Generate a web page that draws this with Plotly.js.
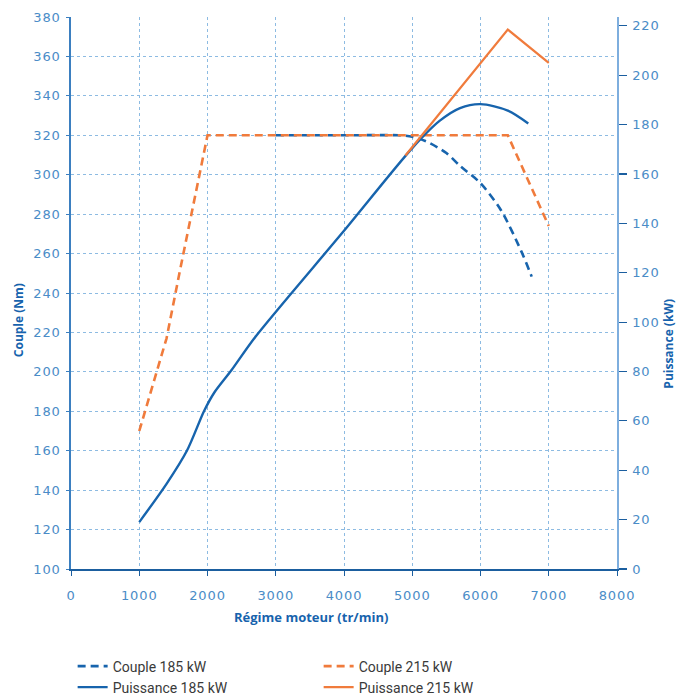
<!DOCTYPE html>
<html>
<head>
<meta charset="utf-8">
<script src="https://cdn.plot.ly/plotly-3.0.1.min.js"></script>
<style>
html,body{margin:0;padding:0;background:#fff;}
#chart{width:680px;height:696px;}
#chart .xtick text, #chart .ytick text, #chart .y2tick text{letter-spacing:0.9px;}
</style>
</head>
<body>
<div id="chart"></div>
<script>
// Couple 185 kW (Nm) — left axis (lower part lies under the 215 kW curve)
const rpmCouple185 = [3000, 4000, 4800, 5000, 5200, 5500, 5700, 6000, 6300, 6600, 6750];
const couple185    = [320, 320, 320, 319.3, 317, 311, 304.5, 295.7, 282, 261, 248.3];
// Couple 215 kW (Nm) — left axis
const rpmCouple215 = [1000, 1200, 1400, 1600, 1800, 2000, 6400, 7000];
const couple215    = [170, 194, 217, 252, 286, 320, 320, 274];
// Puissance 185 kW (kW) — right axis
const rpmPuiss185 = [1000, 1400, 1700, 1950, 2100, 2350, 2700, 4000, 5000, 5400, 5700, 6000, 6400, 6700];
const puiss185    = [19, 34.5, 48, 64, 71.5, 80.5, 94, 137, 170.5, 181.5, 186.7, 188.3, 185.7, 180.5];
// Puissance 215 kW (kW) — right axis
const rpmPuiss215 = [4900, 6400, 7000];
const puiss215    = [167.5, 218.5, 205];

const names = ['Couple 185 kW', 'Couple 215 kW', 'Puissance 185 kW', 'Puissance 215 kW'];
const xTicks = [0, 1000, 2000, 3000, 4000, 5000, 6000, 7000, 8000];

const BLUE = '#1764ad';
const ORANGE = '#f07b3c';
const TICKBLUE = '#4a8cc7';
const TITLEBLUE = '#1763ad';

const traces = [
  {x: rpmCouple185, y: couple185, name: names[0], mode: 'lines', yaxis: 'y', legend: 'legend',
   line: {color: BLUE, width: 2.6, dash: '8px,5px', shape: 'spline', smoothing: 0.8}},
  {x: rpmCouple215, y: couple215, name: names[1], mode: 'lines', yaxis: 'y', legend: 'legend',
   line: {color: ORANGE, width: 2.6, dash: '8px,5px'}},
  {x: rpmPuiss185, y: puiss185, name: names[2], mode: 'lines', yaxis: 'y2', legend: 'legend2',
   line: {color: BLUE, width: 2.4, shape: 'spline', smoothing: 0.8}},
  {x: rpmPuiss215, y: puiss215, name: names[3], mode: 'lines', yaxis: 'y2', legend: 'legend2',
   line: {color: ORANGE, width: 2.2}}
];

const tickFont = {family: 'DejaVu Sans, sans-serif', size: 13, color: TICKBLUE};
const legendFont = {family: 'Roboto, sans-serif', size: 14, color: '#3a3a3a'};

const layout = {
  width: 680, height: 696,
  margin: {l: 71, r: 63, t: 17, b: 127, pad: 0, autoexpand: false},
  paper_bgcolor: '#fff', plot_bgcolor: '#fff',
  showlegend: true,
  legend: {
    orientation: 'h', x: 0.003, xanchor: 'left', y: -0.1476, yanchor: 'top',
    entrywidth: 201, entrywidthmode: 'pixels',
    font: legendFont, traceorder: 'normal', bgcolor: 'rgba(0,0,0,0)'
  },
  legend2: {
    orientation: 'h', x: 0.003, xanchor: 'left', y: -0.1857, yanchor: 'top',
    entrywidth: 201, entrywidthmode: 'pixels',
    font: legendFont, traceorder: 'normal', bgcolor: 'rgba(0,0,0,0)'
  },
  xaxis: {
    range: [0, 8000], tickvals: xTicks, ticktext: xTicks.map(String),
    showgrid: true, gridcolor: '#8dbbe2', griddash: 'dot', gridwidth: 1,
    zeroline: false, showline: true, linecolor: '#1b5e9f', linewidth: 2,
    ticks: 'outside', ticklen: 5, tickcolor: '#1b5e9f', tickwidth: 1,
    tickfont: tickFont, ticklabelstandoff: 8,
    fixedrange: true
  },
  yaxis: {
    range: [100, 380], dtick: 20, tick0: 100,
    showgrid: true, gridcolor: '#8dbbe2', griddash: 'dot', gridwidth: 1,
    zeroline: false, showline: true, linecolor: '#3b7fc0', linewidth: 1.6,
    ticks: 'outside', ticklen: 3, tickcolor: '#3b7fc0',
    tickfont: tickFont, ticklabelstandoff: 3,
    fixedrange: true
  },
  yaxis2: {
    overlaying: 'y', side: 'right', anchor: 'x',
    range: [0, 223.6], dtick: 20, tick0: 0,
    showgrid: false, zeroline: false,
    showline: true, linecolor: '#7eaede', linewidth: 1.6,
    ticks: 'outside', ticklen: 8, tickcolor: '#1b5e9f', tickwidth: 1.2,
    tickfont: tickFont, ticklabelstandoff: 3,
    fixedrange: true
  },
  annotations: [
    {text: '<b>Couple (Nm)</b>', xref: 'paper', yref: 'paper', x: -0.096, y: 0.45,
     xanchor: 'center', yanchor: 'middle', textangle: -90, showarrow: false,
     font: {family: 'Open Sans, sans-serif', size: 12, color: TITLEBLUE}},
    {text: '<b>Puissance (kW)</b>', xref: 'paper', yref: 'paper', x: 1.095, y: 0.408,
     xanchor: 'center', yanchor: 'middle', textangle: -90, showarrow: false,
     font: {family: 'Open Sans, sans-serif', size: 12, color: TITLEBLUE}},
    {text: '<b>Régime moteur (tr/min)</b>', xref: 'paper', yref: 'paper', x: 0.44, y: -0.087,
     xanchor: 'center', yanchor: 'middle', showarrow: false,
     font: {family: 'Open Sans, sans-serif', size: 13, color: TITLEBLUE}}
  ]
};

Plotly.newPlot('chart', traces, layout, {displayModeBar: false, staticPlot: true});
</script>
</body>
</html>
